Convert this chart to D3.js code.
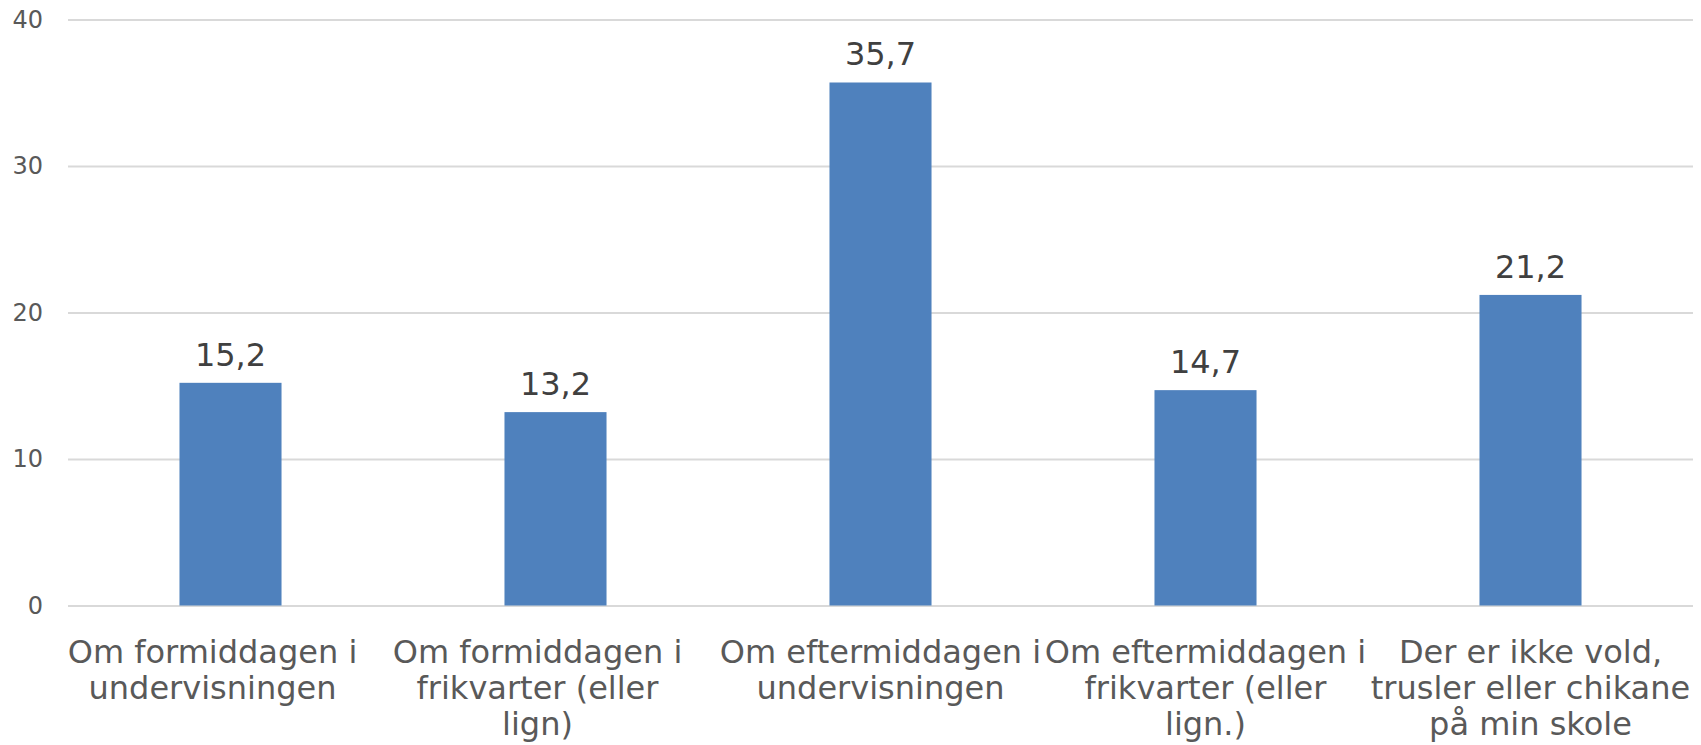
<!DOCTYPE html>
<html>
<head>
<meta charset="utf-8">
<script src="https://cdn.jsdelivr.net/npm/d3@7"></script>
<style>
  body { margin: 0; background: #fff; }
  text { font-family: "DejaVu Sans", Verdana, sans-serif; }
</style>
</head>
<body>
<div id="chart"></div>
<script>
// categories (line breaks as in the original chart)
var categories = [
    "Om formiddagen i\nundervisningen",
    "Om formiddagen i\nfrikvarter (eller\nlign)",
    "Om eftermiddagen i\nundervisningen",
    "Om eftermiddagen i\nfrikvarter (eller\nlign.)",
    "Der er ikke vold,\ntrusler eller chikane\npå min skole"
];
var values = [15.2, 13.2, 35.7, 14.7, 21.2];
var yTicks = [0, 10, 20, 30, 40];

var width = 1701, height = 745;
var plotLeft = 68, plotRight = 1693, plotTop = 19.5, plotBottom = 605.5;

var svg = d3.select("#chart").append("svg")
    .attr("width", width)
    .attr("height", height);

var x = d3.scaleBand()
    .domain(categories)
    .range([plotLeft, plotRight])
    .paddingInner(0.686)
    .paddingOuter(0.343);

var y = d3.scaleLinear()
    .domain([0, 40])
    .range([plotBottom, plotTop]);

// y axis + gridlines
var yAxis = svg.append("g")
    .attr("transform", "translate(" + plotLeft + ",0)")
    .call(d3.axisLeft(y)
        .tickValues(yTicks)
        .tickSize(-(plotRight - plotLeft))
        .tickPadding(25));
yAxis.select(".domain").remove();
yAxis.selectAll(".tick line")
    .attr("stroke", "#d9d9d9")
    .attr("stroke-width", 2);
yAxis.selectAll(".tick text")
    .attr("fill", "#595959")
    .style("font-size", "24px");

// bars
svg.append("g").selectAll("rect")
    .data(values)
    .enter()
    .append("rect")
    .attr("x", function (d, i) { return x(categories[i]); })
    .attr("y", function (d) { return y(d); })
    .attr("width", x.bandwidth())
    .attr("height", function (d) { return y(0) - y(d); })
    .attr("fill", "#4f81bd");

// value labels
svg.append("g").selectAll("text")
    .data(values)
    .enter()
    .append("text")
    .attr("x", function (d, i) { return x(categories[i]) + x.bandwidth() / 2; })
    .attr("y", function (d) { return y(d) - 17; })
    .attr("text-anchor", "middle")
    .attr("fill", "#404040")
    .style("font-size", "32px")
    .text(function (d) { return d.toFixed(1).replace(".", ","); });

// category labels - the first two sit a little left of their bars in the original
var labelDx = [-18, -18, 0, 0, 0];

var catLabels = svg.append("g").selectAll("text")
    .data(categories)
    .enter()
    .append("text")
    .attr("text-anchor", "middle")
    .attr("fill", "#595959")
    .style("font-size", "32px");

catLabels.each(function (d, k) {
    var cx = x(d) + x.bandwidth() / 2 + labelDx[k];
    var lines = d.split("\n");
    for (var i = 0; i < lines.length; i++) {
        d3.select(this).append("tspan")
            .attr("x", cx)
            .attr("y", plotBottom + 57 + i * 36)
            .text(lines[i]);
    }
});
</script>
</body>
</html>
